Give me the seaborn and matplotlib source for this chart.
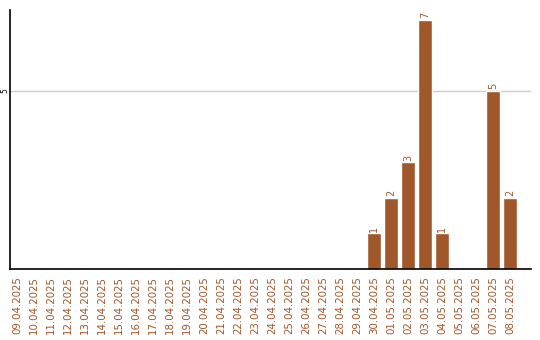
import matplotlib
matplotlib.use("Agg")
import matplotlib.pyplot as plt
import seaborn as sns
import pandas as pd

dates = ["09.04.2025", "10.04.2025", "11.04.2025", "12.04.2025", "13.04.2025",
         "14.04.2025", "15.04.2025", "16.04.2025", "17.04.2025", "18.04.2025",
         "19.04.2025", "20.04.2025", "21.04.2025", "22.04.2025", "23.04.2025",
         "24.04.2025", "25.04.2025", "26.04.2025", "27.04.2025", "28.04.2025",
         "29.04.2025", "30.04.2025", "01.05.2025", "02.05.2025", "03.05.2025",
         "04.05.2025", "05.05.2025", "06.05.2025", "07.05.2025", "08.05.2025"]
counts = [0, 0, 0, 0, 0, 0, 0, 0, 0, 0,
          0, 0, 0, 0, 0, 0, 0, 0, 0, 0,
          0, 1, 2, 3, 7, 1, 0, 0, 5, 2]
yticks = [5]

bar_color = "#A0572A"

sns.set_style("white")
plt.rcParams['font.family'] = ['DejaVu Sans']

df = pd.DataFrame({"date": dates, "count": counts})

fig = plt.figure(figsize=(5.4, 3.4), dpi=100)
ax = fig.add_axes([10/540, 71/340, (531-10)/540, (269-10)/340])

sns.barplot(data=df, x="date", y="count", color=bar_color, saturation=1,
            width=0.82, ax=ax, order=dates)

ax.set_xlim(-0.41, 30.24)
ax.set_ylim(0, 7.27)
ax.set_yticks(yticks)
ax.set_yticklabels([str(t) for t in yticks], rotation=90, va="center",
                   fontsize=5.5, color="black")
ax.tick_params(axis="y", length=0, pad=0.5)
ax.tick_params(axis="x", length=0, pad=5, labelrotation=90,
               labelsize=7.4, labelcolor=bar_color)
for lbl in ax.get_xticklabels():
    lbl.set_color(bar_color)
ax.set_xlabel("")
ax.set_ylabel("")
ax.yaxis.grid(True, color="#cccccc", linewidth=1)
ax.set_axisbelow(True)

for s in ["top", "right"]:
    ax.spines[s].set_visible(False)
for s in ["left", "bottom"]:
    ax.spines[s].set_visible(True)
    ax.spines[s].set_color("black")
    ax.spines[s].set_linewidth(1.2)

cont = ax.containers[0]
labels = [str(v) if v > 0 else "" for v in counts]
ax.bar_label(cont, labels=labels, rotation=90, fontsize=7, color=bar_color,
             padding=1)

fig.savefig("out.png", dpi=100)
